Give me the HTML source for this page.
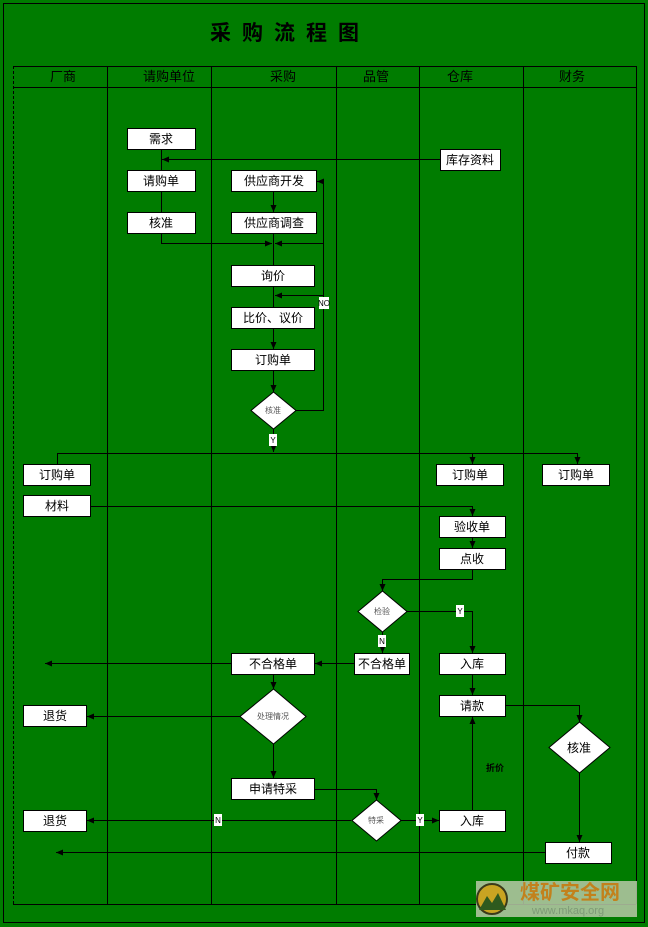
<!DOCTYPE html>
<html><head><meta charset="utf-8"><style>
body{margin:0;background:#007c00;}
svg{display:block}
text{font-family:"Liberation Sans","Noto Sans CJK SC",sans-serif;}
</style></head><body>
<svg width="648" height="927" viewBox="0 0 648 927" xmlns="http://www.w3.org/2000/svg">
<defs>
<marker id="a" markerWidth="8" markerHeight="8" refX="7" refY="4" orient="auto" markerUnits="userSpaceOnUse"><path d="M0,1 L7,4 L0,7 z" fill="#000"/></marker>
</defs>
<rect x="0" y="0" width="648" height="927" fill="#007c00"/>
<rect x="3.5" y="3.5" width="641" height="919" fill="none" stroke="#000"/>
<text x="290" y="40" font-size="21" font-weight="bold" text-anchor="middle" font-family="Liberation Serif,'Noto Serif CJK SC',serif" letter-spacing="11">采购流程图</text>
<g stroke="#000" fill="none">
<line x1="13.5" y1="66" x2="13.5" y2="904" stroke-dasharray="3,2"/>
<line x1="13" y1="66.5" x2="636" y2="66.5"/>
<line x1="13" y1="87.5" x2="636" y2="87.5"/>
<line x1="13" y1="904.5" x2="636" y2="904.5"/>
<line x1="107.5" y1="66" x2="107.5" y2="904"/>
<line x1="211.5" y1="66" x2="211.5" y2="904"/>
<line x1="336.5" y1="66" x2="336.5" y2="904"/>
<line x1="419.5" y1="66" x2="419.5" y2="904"/>
<line x1="523.5" y1="66" x2="523.5" y2="904"/>
<line x1="636.5" y1="66" x2="636.5" y2="904"/>
</g>
<g font-size="13" text-anchor="middle" fill="#000">
<text x="63" y="81">厂商</text><text x="169" y="81">请购单位</text><text x="283" y="81">采购</text>
<text x="376" y="81">品管</text><text x="460" y="81">仓库</text><text x="572" y="81">财务</text>
</g>
<g stroke="#000" fill="none" stroke-width="1">
<polyline points="161.5,149 161.5,212"/>
<line x1="440" y1="159.5" x2="162" y2="159.5" marker-end="url(#a)"/>
<polyline points="161.5,233 161.5,243.5 272,243.5" marker-end="url(#a)"/>
<polyline points="323.5,243.5 275,243.5" marker-end="url(#a)"/>
<line x1="273.5" y1="191" x2="273.5" y2="212" marker-end="url(#a)"/>
<line x1="273.5" y1="233" x2="273.5" y2="265"/>
<line x1="273.5" y1="286" x2="273.5" y2="307"/>
<line x1="323.5" y1="295.5" x2="275" y2="295.5" marker-end="url(#a)"/>
<line x1="273.5" y1="328" x2="273.5" y2="349" marker-end="url(#a)"/>
<line x1="273.5" y1="370" x2="273.5" y2="392" marker-end="url(#a)"/>
<polyline points="296,410.5 323.5,410.5 323.5,181.5 317,181.5" marker-end="url(#a)"/>
<line x1="273.5" y1="428" x2="273.5" y2="452" marker-end="url(#a)"/>
<line x1="57.5" y1="453.5" x2="577.5" y2="453.5"/>
<line x1="57.5" y1="453" x2="57.5" y2="464"/>
<line x1="472.5" y1="453" x2="472.5" y2="464" marker-end="url(#a)"/>
<line x1="577.5" y1="453" x2="577.5" y2="464" marker-end="url(#a)"/>
<polyline points="90,506.5 472.5,506.5 472.5,516" marker-end="url(#a)"/>
<line x1="472.5" y1="537" x2="472.5" y2="548" marker-end="url(#a)"/>
<polyline points="472.5,569 472.5,579.5 382.5,579.5 382.5,591" marker-end="url(#a)"/>
<polyline points="407,611.5 472.5,611.5 472.5,653" marker-end="url(#a)"/>
<line x1="382.5" y1="631" x2="382.5" y2="653" marker-end="url(#a)"/>
<line x1="355" y1="663.5" x2="315" y2="663.5" marker-end="url(#a)"/>
<line x1="232" y1="663.5" x2="45" y2="663.5" marker-end="url(#a)"/>
<line x1="273.5" y1="674" x2="273.5" y2="689" marker-end="url(#a)"/>
<line x1="240" y1="716.5" x2="87" y2="716.5" marker-end="url(#a)"/>
<line x1="273.5" y1="743" x2="273.5" y2="778" marker-end="url(#a)"/>
<polyline points="314,789.5 376.5,789.5 376.5,800" marker-end="url(#a)"/>
<line x1="351" y1="820.5" x2="87" y2="820.5" marker-end="url(#a)"/>
<line x1="401" y1="820.5" x2="439" y2="820.5" marker-end="url(#a)"/>
<line x1="472.5" y1="810" x2="472.5" y2="717" marker-end="url(#a)"/>
<line x1="472.5" y1="674" x2="472.5" y2="695" marker-end="url(#a)"/>
<polyline points="505,705.5 579.5,705.5 579.5,722" marker-end="url(#a)"/>
<line x1="579.5" y1="772" x2="579.5" y2="842" marker-end="url(#a)"/>
<line x1="546" y1="852.5" x2="56" y2="852.5" marker-end="url(#a)"/>
</g>
<g fill="#fff" stroke="#000">
<rect x="127.5" y="128.5" width="68" height="21"/>
<rect x="440.5" y="149.5" width="60" height="21"/>
<rect x="127.5" y="170.5" width="68" height="21"/>
<rect x="231.5" y="170.5" width="85" height="21"/>
<rect x="127.5" y="212.5" width="68" height="21"/>
<rect x="231.5" y="212.5" width="85" height="21"/>
<rect x="231.5" y="265.5" width="83" height="21"/>
<rect x="231.5" y="307.5" width="83" height="21"/>
<rect x="231.5" y="349.5" width="83" height="21"/>
<polygon points="273.5,392 296,410.5 273.5,429 251,410.5"/>
<rect x="23.5" y="464.5" width="67" height="21"/>
<rect x="436.5" y="464.5" width="67" height="21"/>
<rect x="542.5" y="464.5" width="67" height="21"/>
<rect x="23.5" y="495.5" width="67" height="21"/>
<rect x="439.5" y="516.5" width="66" height="21"/>
<rect x="439.5" y="548.5" width="66" height="21"/>
<polygon points="382.5,591 407,611.5 382.5,632 358,611.5"/>
<rect x="231.5" y="653.5" width="83" height="21"/>
<rect x="354.5" y="653.5" width="55" height="21"/>
<rect x="439.5" y="653.5" width="66" height="21"/>
<rect x="439.5" y="695.5" width="66" height="21"/>
<polygon points="273.5,689 306,716.5 273.5,744 240,716.5"/>
<rect x="23.5" y="705.5" width="63" height="21"/>
<polygon points="579.5,722 610,747.5 579.5,773 549,747.5"/>
<rect x="231.5" y="778.5" width="83" height="21"/>
<polygon points="376.5,800 401,820.5 376.5,841 352,820.5"/>
<rect x="23.5" y="810.5" width="63" height="21"/>
<rect x="439.5" y="810.5" width="66" height="21"/>
<rect x="545.5" y="842.5" width="66" height="21"/>
</g>
<g font-size="12" text-anchor="middle" fill="#000">
<text x="161" y="143">需求</text><text x="470" y="164">库存资料</text>
<text x="161" y="185">请购单</text><text x="274" y="185">供应商开发</text>
<text x="161" y="227">核准</text><text x="274" y="227">供应商调查</text>
<text x="273" y="280">询价</text><text x="273" y="322">比价、议价</text><text x="273" y="364">订购单</text>
<text x="57" y="479">订购单</text><text x="470" y="479">订购单</text><text x="576" y="479">订购单</text>
<text x="57" y="510">材料</text><text x="472" y="531">验收单</text><text x="472" y="563">点收</text>
<text x="273" y="668">不合格单</text><text x="382" y="668">不合格单</text><text x="472" y="668">入库</text>
<text x="472" y="710">请款</text><text x="55" y="720">退货</text><text x="579" y="752">核准</text>
<text x="273" y="793">申请特采</text><text x="55" y="825">退货</text><text x="472" y="825">入库</text>
<text x="578" y="857">付款</text>
</g>
<g font-size="8" text-anchor="middle" fill="#555">
<text x="273" y="413">核准</text><text x="382" y="614">检验</text><text x="273" y="719">处理情况</text><text x="376" y="823">特采</text>
</g>
<g font-size="8" text-anchor="middle" fill="#000">
<rect x="319" y="297" width="10" height="12" fill="#fff"/><text x="324" y="306">NO</text>
<rect x="269" y="434" width="8" height="12" fill="#fff"/><text x="273" y="443">Y</text>
<rect x="456" y="605" width="8" height="12" fill="#fff"/><text x="460" y="614">Y</text>
<rect x="378" y="635" width="8" height="12" fill="#fff"/><text x="382" y="644">N</text>
<rect x="214" y="814" width="8" height="12" fill="#fff"/><text x="218" y="823">N</text>
<rect x="416" y="814" width="8" height="12" fill="#fff"/><text x="420" y="823">Y</text>
<text x="495" y="771" font-weight="bold" font-size="9">折价</text>
</g>
<rect x="476" y="881" width="161" height="36" fill="#b9c9a8" opacity="0.85"/>
<circle cx="492" cy="899" r="15" fill="#c9a422" stroke="#3a3a1a" stroke-width="2"/>
<path d="M479,910 L487,896 L492,903 L498,893 L506,910 z" fill="#2e5a1e"/>
<text x="570" y="899" font-size="20" font-weight="bold" fill="#c2811c" text-anchor="middle" font-family="'Noto Serif CJK SC',serif">煤矿安全网</text>
<text x="568" y="914" font-size="11" fill="#7e9a77" text-anchor="middle">www.mkaq.org</text>
</svg>
</body></html>
